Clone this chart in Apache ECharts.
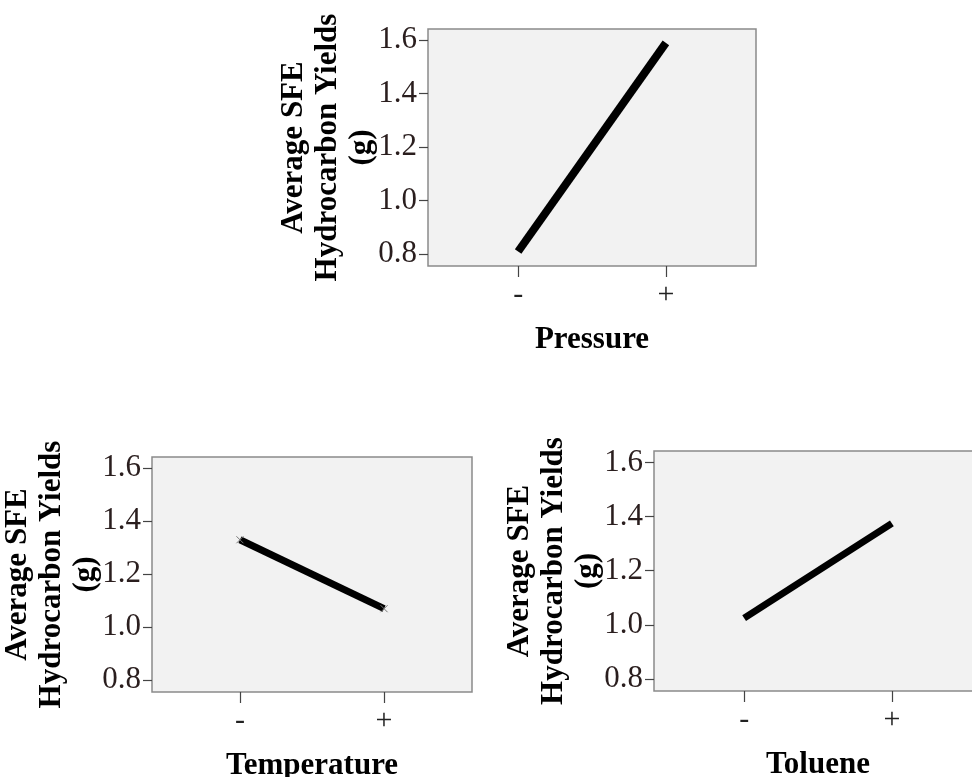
<!DOCTYPE html>
<html>
<head>
<meta charset="utf-8">
<title>Main effects on SFE hydrocarbon yields</title>
<script src="https://cdn.jsdelivr.net/npm/echarts@6/dist/echarts.min.js"></script>
<style>
  html, body { margin: 0; padding: 0; background: #fff; }
  #chart { width: 972px; height: 777px; }
</style>
</head>
<body>
<div id="chart"></div>
<script>
// factor levels on the x axis
var levels = ['-', '+'];
var levelPos = [0, 1];

// average yields (g) at low / high level of each factor
var pressureYield = [0.81, 1.59];
var temperatureYield = [1.33, 1.07];
var tolueneYield = [1.025, 1.375];

var factorNames = ['Pressure', 'Temperature', 'Toluene'];
var yTicks = [0.8, 1.0, 1.2, 1.4, 1.6];
var yName = 'Average SFE\nHydrocarbon Yields\n(g)';

var SERIF = '"Liberation Serif", "Times New Roman", serif';

function buildGrid(box) {
  var grid = {
    show: true,
    outerBoundsMode: 'none',
    backgroundColor: '#f2f2f2',
    borderColor: '#8a8a8a',
    borderWidth: 1.5
  };
  return Object.assign(grid, box);
}

function buildXAxis(idx, name) {
  return {
    type: 'value',
    gridIndex: idx,
    min: -0.61,
    max: 1.61,
    name: name,
    nameLocation: 'middle',
    nameGap: 58,
    nameMoveOverlap: false,
    nameTextStyle: {
      fontFamily: SERIF,
      fontWeight: 'bold',
      fontSize: 31,
      color: '#000'
    },
    splitLine: { show: false },
    axisLine: { show: false, onZero: false },
    axisTick: {
      show: true,
      customValues: levelPos,
      length: 11,
      lineStyle: { color: '#444', width: 1.2 }
    },
    axisLabel: {
      customValues: levelPos,
      margin: 14,
      fontFamily: SERIF,
      fontSize: 30,
      color: '#222',
      formatter: function (v) {
        return levels[levelPos.indexOf(v)];
      }
    }
  };
}

function buildYAxis(idx) {
  return {
    type: 'value',
    gridIndex: idx,
    min: 0.756,
    max: 1.642,
    name: yName,
    nameLocation: 'middle',
    nameGap: 49,
    nameMoveOverlap: false,
    nameTextStyle: {
      fontFamily: SERIF,
      fontWeight: 'bold',
      fontSize: 31,
      lineHeight: 34,
      color: '#000'
    },
    splitLine: { show: false },
    axisLine: { show: false, onZero: false },
    axisTick: {
      show: true,
      customValues: yTicks,
      length: 9,
      lineStyle: { color: '#444', width: 1.2 }
    },
    axisLabel: {
      customValues: yTicks,
      margin: 11,
      fontFamily: SERIF,
      fontSize: 31,
      color: '#2a1e1e',
      formatter: function (v) {
        return v.toFixed(1);
      }
    }
  };
}

function buildSeries(idx, values, width, marker) {
  return {
    type: 'line',
    xAxisIndex: idx,
    yAxisIndex: idx,
    data: levelPos.map(function (x, i) { return [x, values[i]]; }),
    symbol: marker ? 'path://M0,0L10,10M10,0L0,10' : 'none',
    symbolSize: 7,
    itemStyle: { color: '#888', borderColor: '#777', borderWidth: 1 },
    lineStyle: { color: '#000', width: width },
    silent: true
  };
}

var chart = echarts.init(document.getElementById('chart'));
chart.setOption({
  animation: false,
  backgroundColor: '#fff',
  grid: [
    buildGrid({ left: 428, top: 29, width: 328, height: 237 }),
    buildGrid({ left: 152, top: 457, width: 320, height: 235 }),
    // the toluene panel runs off the right edge of the figure
    buildGrid({ left: 654, top: 451, width: 328, height: 240 })
  ],
  xAxis: [
    buildXAxis(0, factorNames[0]),
    buildXAxis(1, factorNames[1]),
    buildXAxis(2, factorNames[2])
  ],
  yAxis: [buildYAxis(0), buildYAxis(1), buildYAxis(2)],
  series: [
    buildSeries(0, pressureYield, 8, false),
    buildSeries(1, temperatureYield, 7, true),
    buildSeries(2, tolueneYield, 7, false)
  ]
});
</script>
</body>
</html>
